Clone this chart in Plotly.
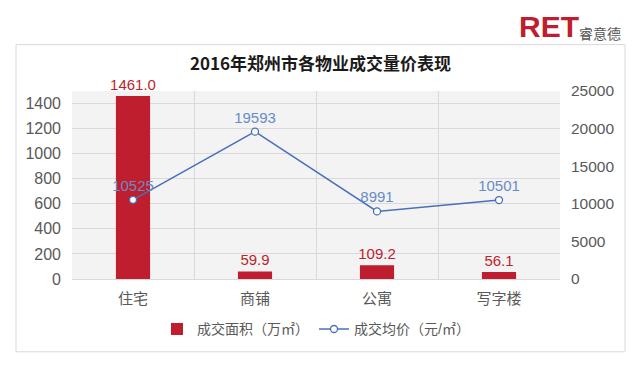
import plotly.graph_objects as go

categories = ["住宅", "商铺", "公寓", "写字楼"]
area_values = [1461.0, 59.9, 109.2, 56.1]
price_values = [10525, 19593, 8991, 10501]
left_ticks = [0, 200, 400, 600, 800, 1000, 1200, 1400]
right_ticks = [0, 5000, 10000, 15000, 20000, 25000]

title_text = "2016年郑州市各物业成交量价表现"
area_name = "成交面积（万㎡）"
price_name = "成交均价（元/㎡）"

RED = "#be1e2d"
BLUE = "#4a6fba"
BLUE_TXT = "#6a8bc6"
GRAY = "#595959"
FONT = "Liberation Sans, Noto Sans CJK SC, sans-serif"

fig = go.Figure()
fig.add_trace(go.Bar(
    x=categories, y=area_values, name=area_name,
    marker=dict(color=RED, line=dict(width=0)),
    width=0.28,
    text=[f"{v:.1f}" for v in area_values],
    textposition="outside", cliponaxis=False, constraintext="none",
    textfont=dict(color=RED, size=15, family=FONT),
    yaxis="y",
))
fig.add_trace(go.Scatter(
    x=categories, y=price_values, name=price_name,
    mode="lines+markers+text",
    line=dict(color=BLUE, width=1.5),
    marker=dict(symbol="circle", size=7, color="white", line=dict(color=BLUE, width=1.3)),
    text=[str(v) for v in price_values],
    textposition="top center", cliponaxis=False,
    textfont=dict(color=BLUE_TXT, size=15, family=FONT),
    yaxis="y2",
))

# page has an 8px body margin: plot area sits at page x 72..560, y 90.5..279
fig.update_layout(
    width=632, height=365,
    margin=dict(l=64, r=80, t=82.5, b=94),
    paper_bgcolor="white",
    plot_bgcolor="#f3f3f3",
    font=dict(family=FONT, color=GRAY, size=15),
    showlegend=True,
    legend=dict(orientation="h", x=0.5, xanchor="center", y=-0.183, yanchor="top",
                font=dict(size=14, color=GRAY), bgcolor="rgba(0,0,0,0)",
                itemwidth=30, traceorder="normal"),
    xaxis=dict(type="category", tickson="boundaries", showgrid=True, gridcolor="#d9d9d9",
               gridwidth=1, showline=True, linecolor="#d9d9d9", ticks="",
               tickfont=dict(size=15, color=GRAY), ticklabelstandoff=6, fixedrange=True),
    yaxis=dict(range=[0, 1500], tickvals=left_ticks, showgrid=True, gridcolor="#d9d9d9",
               zeroline=False, ticks="", tickfont=dict(size=16, color=GRAY), ticklabelstandoff=10),
    yaxis2=dict(range=[0, 25000], tickvals=right_ticks, ticktext=[str(v) for v in right_ticks],
                overlaying="y", side="right",
                showgrid=False, zeroline=False, ticks="", tickfont=dict(size=15.5, color=GRAY),
                ticklabelstandoff=10),
    shapes=[dict(type="rect", xref="paper", yref="paper",
                 x0=(16 - 72) / 488, x1=(625 - 72) / 488,
                 y0=(279 - 352) / 188.5, y1=(279 - 44) / 188.5,
                 line=dict(color="#d9d9d9", width=1), fillcolor="rgba(0,0,0,0)", layer="below")],
    annotations=[
        dict(text=f"<b>{title_text}</b>", xref="paper", yref="paper",
             x=(320 - 72) / 488, y=(279 - 62) / 188.5, xanchor="center", yanchor="middle",
             showarrow=False, font=dict(size=17, color="#1a1a1a", family="Noto Sans CJK SC, sans-serif")),
        dict(text="<b>RET</b>", xref="paper", yref="paper",
             x=(517 - 72) / 488, y=(279 - 26) / 188.5, xanchor="left", yanchor="middle",
             showarrow=False, font=dict(size=30, color=RED, family="Liberation Sans, Arial, sans-serif")),
        dict(text="睿意德", xref="paper", yref="paper",
             x=(577 - 72) / 488, y=(279 - 32) / 188.5, xanchor="left", yanchor="middle",
             showarrow=False, font=dict(size=14, color="#555555", family="Noto Sans CJK SC, sans-serif")),
    ],
)

fig.write_html("out.html")
